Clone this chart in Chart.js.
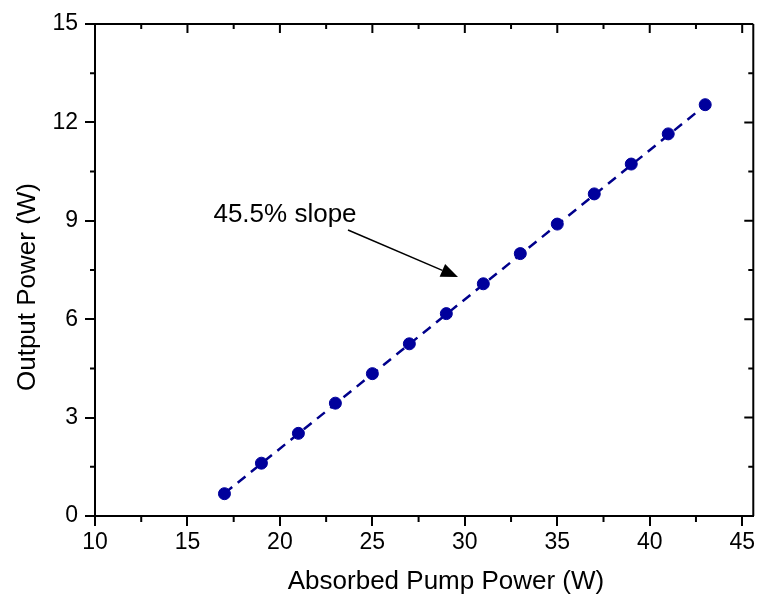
<!DOCTYPE html>
<html lang="en">
<head>
  <meta charset="UTF-8">
  <title>Output Power vs Absorbed Pump Power</title>
  <style>
    html, body { margin: 0; padding: 0; background: #fff; overflow: hidden; }
    #wrap { width: 758px; height: 594px; }
    #graphic { display: block; }
  </style>
</head>
<body>
  <div id="wrap">
    <canvas id="graphic" width="758" height="594"></canvas>
  </div>

  <script src="https://cdn.jsdelivr.net/npm/chart.js"></script>

  <script>
    // data
    const pumpPower = [17, 19, 21, 23, 25, 27, 29, 31, 33, 35, 37, 39, 41, 43];
    const outputPower = [0.68, 1.61, 2.52, 3.44, 4.34, 5.25, 6.17, 7.08, 8.0, 8.9, 9.82, 10.73, 11.65, 12.54];
    const fitX = [17, 43];
    const fitY = [0.69, 12.52];
    const xTicks = [10, 15, 20, 25, 30, 35, 40, 45];
    const yTicks = [0, 3, 6, 9, 12, 15];
    const xMinor = [12.5, 17.5, 22.5, 27.5, 32.5, 37.5, 42.5];
    const yMinor = [1.5, 4.5, 7.5, 10.5, 13.5];

    const FONT = "Arial, 'Liberation Sans', sans-serif";
    const BLUE = "#00009c";

    const frame = {
      id: "frame",
      afterDraw(chart) {
        const ctx = chart.ctx;
        const a = chart.chartArea;
        const x = chart.scales.x, y = chart.scales.y;
        ctx.save();
        ctx.strokeStyle = "#000";
        ctx.lineWidth = 2;
        ctx.beginPath();
        ctx.moveTo(a.left, a.top); ctx.lineTo(a.right, a.top);
        ctx.moveTo(a.right, a.top); ctx.lineTo(a.right, a.bottom);
        // major ticks on top / right, inward
        xTicks.forEach(v => {
          const px = x.getPixelForValue(v);
          ctx.moveTo(px, a.top); ctx.lineTo(px, a.top + 9);
        });
        yTicks.forEach(v => {
          const py = y.getPixelForValue(v);
          ctx.moveTo(a.right, py); ctx.lineTo(a.right - 9, py);
        });
        // minor ticks
        xMinor.forEach(v => {
          const px = x.getPixelForValue(v);
          ctx.moveTo(px, a.top); ctx.lineTo(px, a.top + 5);
          ctx.moveTo(px, a.bottom); ctx.lineTo(px, a.bottom + 6);
        });
        yMinor.forEach(v => {
          const py = y.getPixelForValue(v);
          ctx.moveTo(a.left, py); ctx.lineTo(a.left - 5, py);
          ctx.moveTo(a.right, py); ctx.lineTo(a.right - 5, py);
        });
        ctx.stroke();

        // axis titles
        ctx.fillStyle = "#000";
        ctx.font = "26px " + FONT;
        ctx.textAlign = "center";
        ctx.textBaseline = "alphabetic";
        ctx.fillText("Absorbed Pump Power (W)", 446, 589);
        ctx.save();
        ctx.translate(35, 287);
        ctx.rotate(-Math.PI / 2);
        ctx.fillText("Output Power (W)", 0, 0);
        ctx.restore();

        // annotation
        ctx.fillText("45.5% slope", 285, 222);
        const x0 = 348, y0 = 230, x1 = 458, y1 = 277;
        const ang = Math.atan2(y1 - y0, x1 - x0);
        const hl = 17, hw = 7;
        const bx = x1 - hl * Math.cos(ang), by = y1 - hl * Math.sin(ang);
        ctx.lineWidth = 1.5;
        ctx.beginPath();
        ctx.moveTo(x0, y0); ctx.lineTo(bx, by);
        ctx.stroke();
        ctx.beginPath();
        ctx.moveTo(x1, y1);
        ctx.lineTo(bx + hw * Math.sin(ang), by - hw * Math.cos(ang));
        ctx.lineTo(bx - hw * Math.sin(ang), by + hw * Math.cos(ang));
        ctx.closePath();
        ctx.fill();
        ctx.restore();
      }
    };

    new Chart(document.getElementById("graphic"), {
      type: "scatter",
      data: {
        datasets: [
          {
            label: "Output power",
            data: pumpPower.map((v, i) => ({ x: v, y: outputPower[i] })),
            backgroundColor: BLUE,
            borderColor: BLUE,
            pointRadius: 6,
            pointHoverRadius: 6,
            order: 1
          },
          {
            label: "Linear fit",
            type: "line",
            data: fitX.map((v, i) => ({ x: v, y: fitY[i] })),
            borderColor: "#00008b",
            borderWidth: 2.5,
            borderDash: [10, 7],
            pointRadius: 0,
            fill: false,
            order: 2
          }
        ]
      },
      options: {
        responsive: false,
        animation: false,
        layout: { autoPadding: false, padding: { top: 24, right: 1, left: 0, bottom: 0 } },
        plugins: {
          legend: { display: false },
          tooltip: { enabled: false }
        },
        scales: {
          x: {
            type: "linear",
            min: 10,
            max: 45.6,
            afterBuildTicks: s => { s.ticks = xTicks.map(v => ({ value: v })); },
            afterFit: s => { s.height = 78; },
            ticks: {
              color: "#000",
              font: { family: FONT, size: 23 },
              padding: 3,
              maxRotation: 0,
              autoSkip: false
            },
            grid: { display: true, drawOnChartArea: false, tickLength: 10, color: "#000", lineWidth: 2 },
            border: { display: true, color: "#000", width: 2 }
          },
          y: {
            min: 0,
            max: 15,
            afterBuildTicks: s => { s.ticks = yTicks.map(v => ({ value: v })); },
            afterFit: s => { s.width = 95; },
            ticks: {
              color: "#000",
              font: { family: FONT, size: 23 },
              padding: 7
            },
            grid: { display: true, drawOnChartArea: false, tickLength: 10, color: "#000", lineWidth: 2 },
            border: { display: true, color: "#000", width: 2 }
          }
        }
      },
      plugins: [frame]
    });
  </script>
</body>
</html>
